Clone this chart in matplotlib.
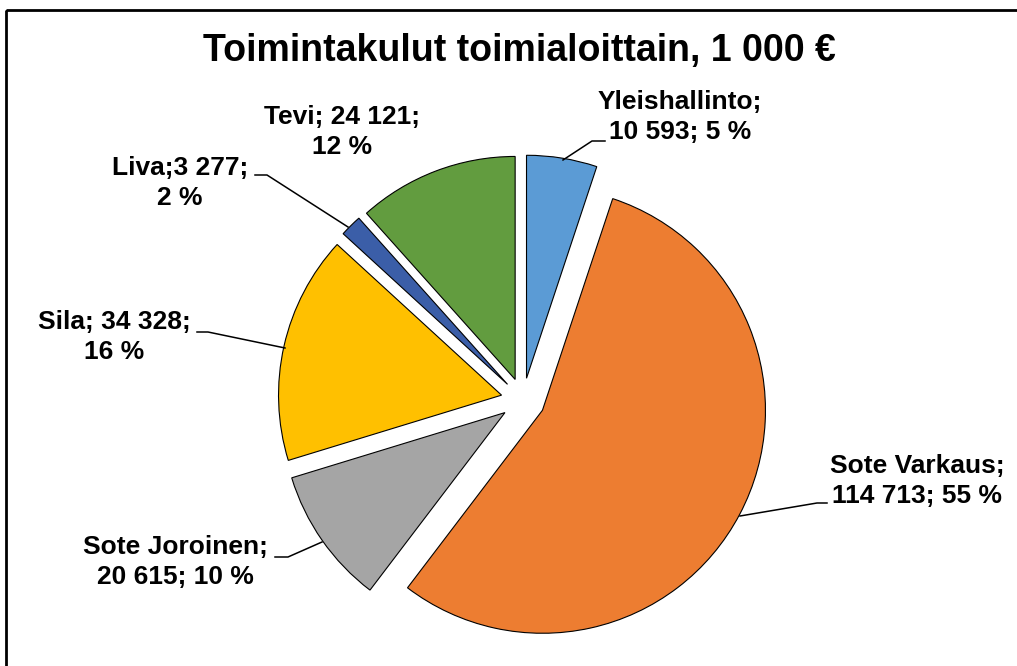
import matplotlib.pyplot as plt
from matplotlib.patches import Rectangle

plt.rcParams["font.family"] = ["Liberation Sans", "DejaVu Sans"]

LEVEYS, KORKEUS = 1017, 666

toimialat = ["Yleishallinto", "Sote Varkaus", "Sote Joroinen", "Sila", "Liva", "Tevi"]
kulut = [10593, 114713, 20615, 34328, 3277, 24121]
osuudet = [5, 55, 10, 16, 2, 12]
nimiot = [
    "Yleishallinto;\n10 593; 5 %",
    "Sote Varkaus;\n114 713; 55 %",
    "Sote Joroinen;\n20 615; 10 %",
    "Sila; 34 328;\n16 %",
    "Liva;3 277;\n2 %",
    "Tevi; 24 121;\n12 %",
]
varit = ["#5B9BD5", "#ED7D31", "#A5A5A5", "#FFC000", "#3B5EA8", "#629C3F"]

# nimiöiden paikat ja viivat kuvan pikseleinä (y alaspäin)
nimio_xy = [(680, 117), (917, 481), (175, 562), (114, 337), (180, 183), (342, 132)]
viivat = [
    [(563, 160), (592, 141), (605, 141)],
    [(827, 503), (817, 503), (740, 516)],
    [(275, 557), (288, 557), (322, 542)],
    [(197, 332), (208, 332), (285, 348)],
    [(255, 175), (267, 175), (348, 227)],
    None,
]


def py(y):
    return KORKEUS - y


fig = plt.figure(figsize=(LEVEYS / 100, KORKEUS / 100), dpi=100)
ax = fig.add_axes([0, 0, 1, 1])

# explode on matplotlibissa data-yksiköissä, ei säteen osuutena
ax.pie(kulut, colors=varit, startangle=90, counterclock=False,
       explode=[22] * len(kulut), center=(523, py(400)), radius=223,
       wedgeprops=dict(edgecolor="black", linewidth=0.8),
       frame=True)
ax.set_xlim(0, LEVEYS)
ax.set_ylim(0, KORKEUS)
ax.axis("off")

for teksti, (x, y), viiva in zip(nimiot, nimio_xy, viivat):
    ax.text(x, py(y), teksti, ha="center", va="center", multialignment="center",
            fontsize=19, fontweight="bold", linespacing=1.3)
    if viiva:
        ax.plot([p[0] for p in viiva], [py(p[1]) for p in viiva],
                color="black", linewidth=1.1)

ax.text(519, py(51), "Toimintakulut toimialoittain, 1 000 €", ha="center",
        va="center", fontsize=27, fontweight="bold")

ax.add_patch(Rectangle((6, py(10)), LEVEYS + 20, -KORKEUS, fill=False,
                       edgecolor="black", linewidth=2, clip_on=False))

fig.savefig("out.png", dpi=100)
plt.close(fig)
